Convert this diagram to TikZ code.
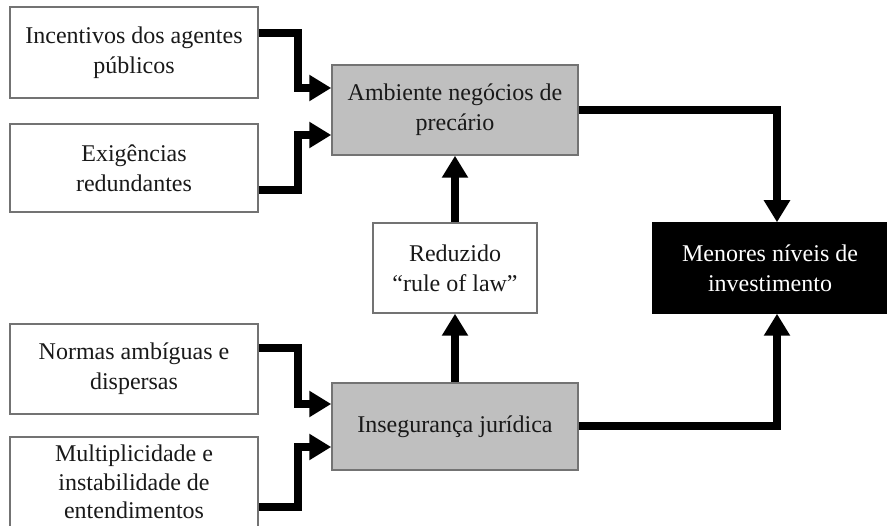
\documentclass[tikz,border=0pt]{standalone}
\usepackage{fontspec}
\setmainfont{Liberation Serif}
\usetikzlibrary{arrows.meta}
\begin{document}
\begin{tikzpicture}[x=1pt,y=-1pt,
  box/.style={draw=black!55, line width=1.5pt, fill=white, align=center,
    font=\fontsize{24}{30}\selectfont, inner sep=0pt, text=black!90},
  graybox/.style={box, fill=black!25},
  blackbox/.style={box, fill=black, draw=black, text=white},
  arr/.style={line width=8pt, line join=miter, -{Triangle[length=22pt,width=25pt]}}]
\useasboundingbox (0,0) rectangle (887,526);
\node[box, minimum width=248pt, minimum height=91pt] (inc) at (134,52.5) {Incentivos dos agentes\\públicos};
\node[box, minimum width=248pt, minimum height=88pt] (exi) at (134,168) {Exigências\\redundantes};
\node[graybox, minimum width=246pt, minimum height=90pt] (amb) at (455,110) {Ambiente negócios de\\precário};
\node[box, minimum width=164pt, minimum height=90pt] (red) at (455,268) {Reduzido\\“rule of law”};
\node[blackbox, minimum width=234pt, minimum height=90pt] (men) at (770,268) {Menores níveis de\\investimento};
\node[box, minimum width=248pt, minimum height=90pt] (nor) at (134,369) {Normas ambíguas e\\dispersas};
\node[graybox, minimum width=246pt, minimum height=87pt] (ins) at (455,426.5) {Insegurança jurídica};
\node[box, minimum width=248pt, minimum height=90pt, font=\fontsize{24}{28.5}\selectfont] (mul) at (134,482) {Multiplicidade e\\instabilidade de\\entendimentos};
\draw[arr] ([yshift=19pt]inc.east) -- ++(39,0) |- ([yshift=22pt]amb.west);
\draw[arr] ([yshift=-22pt]exi.east) -- ++(39,0) |- ([yshift=-25pt]amb.west);
\draw[arr] ([yshift=21pt]nor.east) -- ++(39,0) |- ([yshift=22.5pt]ins.west);
\draw[arr] ([yshift=-25pt]mul.east) -- ++(39,0) |- ([yshift=-20.5pt]ins.west);
\draw[arr] (red.north) -- (amb.south);
\draw[arr] (ins.north) -- (red.south);
\draw[arr] (amb.east) -| ([xshift=7pt]men.north);
\draw[arr] (ins.east) -| ([xshift=7pt]men.south);
\end{tikzpicture}
\end{document}
